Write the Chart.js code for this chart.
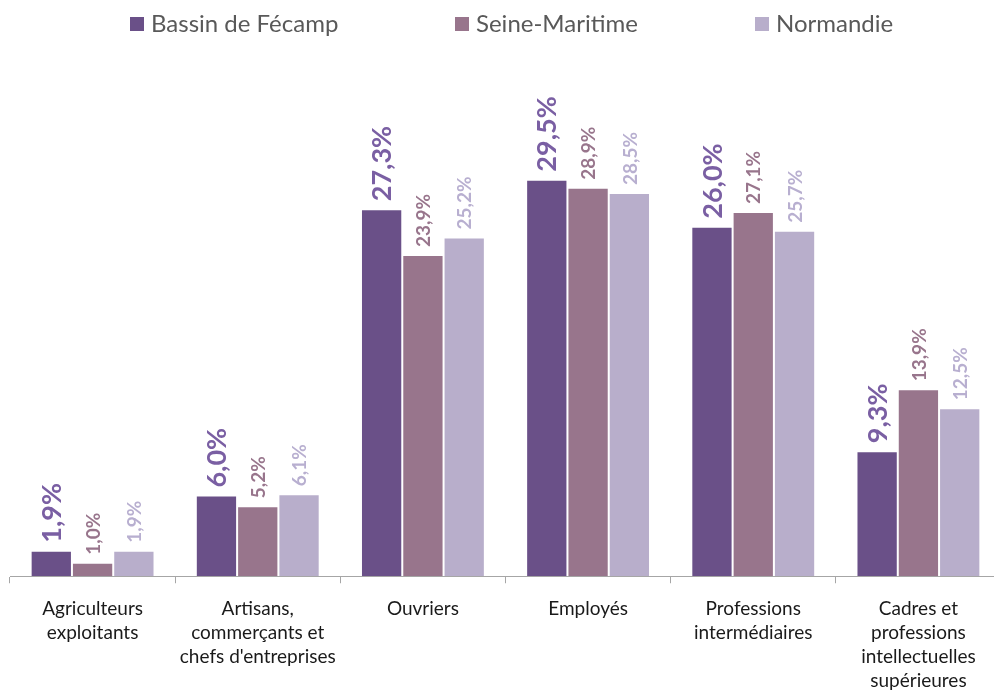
<!DOCTYPE html>
<html>
<head>
<meta charset="utf-8">
<script src="https://cdn.jsdelivr.net/npm/chart.js@4.4.1/dist/chart.umd.min.js"></script>
<style>
html,body{margin:0;padding:0;background:#fff;overflow:hidden;}
#wrap{width:994px;height:691px;overflow:hidden;}
</style>
</head>
<body>
<div id="wrap"><canvas id="csChart" width="1001" height="707" style="width:1001px;height:707px;"></canvas></div>
<script>
// categories
const categories = [
  ["Agriculteurs", "exploitants"],
  ["Artisans,", "commerçants et", "chefs d'entreprises"],
  ["Ouvriers"],
  ["Employés"],
  ["Professions", "intermédiaires"],
  ["Cadres et", "professions", "intellectuelles", "supérieures"]
];

// series
const seriesNames = ["Bassin de Fécamp", "Seine-Maritime", "Normandie"];
const bassinFecamp = [1.9, 6.0, 27.3, 29.5, 26.0, 9.3];
const seineMaritime = [1.0, 5.2, 23.9, 28.9, 27.1, 13.9];
const normandie = [1.9, 6.1, 25.2, 28.5, 25.7, 12.5];

const barColors = ["#6a5088", "#98758c", "#b8aecb"];
const labelColors = ["#7a5fa3", "#98758c", "#b8afd0"];
const labelSizes = [27, 19, 19];
const FONT = "Lato, 'Open Sans', sans-serif";

document.addEventListener("DOMContentLoaded", function () {
  createChart();
});

// value labels, rotated above bars
const valueLabels = {
  id: "valueLabels",
  afterDatasetsDraw(chart) {
    const ctx = chart.ctx;
    chart.data.datasets.forEach(function (ds, i) {
      const meta = chart.getDatasetMeta(i);
      meta.data.forEach(function (bar, j) {
        const txt = ds.data[j].toFixed(1).replace(".", ",") + "%";
        ctx.save();
        ctx.translate(bar.x, bar.y - 8);
        ctx.rotate(-Math.PI / 2);
        ctx.font = "bold " + labelSizes[i] + "px " + FONT;
        ctx.fillStyle = labelColors[i];
        ctx.textAlign = "left";
        ctx.textBaseline = "middle";
        ctx.fillText(txt, 0, 1);
        ctx.restore();
      });
    });
  }
};

// legend drawn by hand so the spacing matches
const topLegend = {
  id: "topLegend",
  afterDraw(chart) {
    const ctx = chart.ctx;
    const xs = [130, 455, 755];
    ctx.save();
    ctx.font = "24px " + FONT;
    ctx.textBaseline = "middle";
    chart.data.datasets.forEach(function (ds, i) {
      ctx.fillStyle = ds.backgroundColor;
      ctx.fillRect(xs[i], 17, 14, 14);
      ctx.fillStyle = "#595959";
      ctx.fillText(ds.label, xs[i] + 21, 24);
    });
    ctx.restore();
  }
};

function createChart(){

new Chart(document.getElementById("csChart"),{

type:"bar",

data:{
labels:categories,
datasets:[
{label:seriesNames[0], data:bassinFecamp, backgroundColor:barColors[0]},
{label:seriesNames[1], data:seineMaritime, backgroundColor:barColors[1]},
{label:seriesNames[2], data:normandie, backgroundColor:barColors[2]}
].map(function (d) {
  d.borderColor = "#ffffff";
  d.borderWidth = {top:1, left:1, right:1, bottom:0};
  d.barPercentage = 1;
  d.categoryPercentage = 0.75;
  return d;
})
},

options:{
responsive:false,
animation:false,
devicePixelRatio:1,
layout:{padding:{top:60, left:10, right:0, bottom:0}},
plugins:{
legend:{display:false},
tooltip:{enabled:false}
},
scales:{
x:{
grid:{offset:true, drawOnChartArea:false, tickLength:7, color:"#a6a6a6"},
border:{color:"#a6a6a6"},
ticks:{color:"#1a1a1a", font:{family:FONT, size:19, lineHeight:1.26}, padding:14, maxRotation:0, autoSkip:false}
},
y:{
display:false,
min:0,
max:38.4
}
}
},
plugins:[valueLabels, topLegend]

});

}
</script>
</body>
</html>
